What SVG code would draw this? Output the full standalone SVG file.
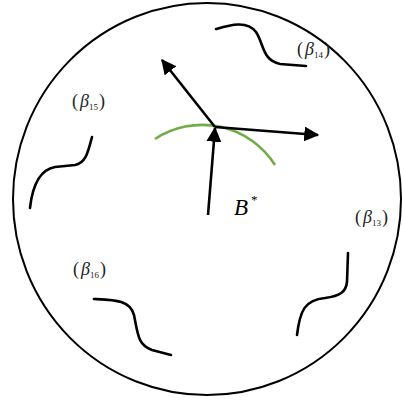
<svg xmlns="http://www.w3.org/2000/svg" width="403" height="403" viewBox="0 0 403 403">
<style>
.ln{fill:none;stroke:#000;stroke-width:2.6;stroke-linecap:round}
.ar{fill:none;stroke:#000;stroke-width:2.6}
.lab{font-family:"Liberation Serif",serif;font-size:18px;fill:#222}
.sub{font-size:9px}
</style>
<defs>
<marker id="ah" viewBox="0 0 12 12" refX="11" refY="6" markerWidth="15" markerHeight="15" markerUnits="userSpaceOnUse" orient="auto">
<path d="M0,0 L12,6 L0,12 Z" fill="#000"/>
</marker>
</defs>
<rect width="403" height="403" fill="#fff"/>
<ellipse id="boundary" cx="207" cy="199" rx="194" ry="196" fill="none" stroke="#000" stroke-width="2"/>
<path id="arc" d="M155,139 A86,86 0 0 1 275,165" fill="none" stroke="#70ad47" stroke-width="2.6"/>
<g id="connectors">
<path class="ar" d="M208,215 L215,128" marker-end="url(#ah)"/>
<path class="ar" d="M215,127 L162,60" marker-end="url(#ah)"/>
<path class="ar" d="M215,127 L318,135" marker-end="url(#ah)"/>
</g>
<g id="b14">
<path class="ln" d="M216,29 C230,25 247,20 256,32 C264,44 262,60 280,64 L306,66"/>
<text class="lab" x="297" y="55">(<tspan font-style="italic" dx="2">β</tspan><tspan class="sub" dy="3">14</tspan><tspan dy="-3" dx="1">)</tspan></text>
</g>
<g id="b15">
<path class="ln" d="M92,137 C88,152 86,163 75,165 L55,167 C38,170 32,190 30,208"/>
<text class="lab" x="72" y="107">(<tspan font-style="italic" dx="2">β</tspan><tspan class="sub" dy="3">15</tspan><tspan dy="-3" dx="1">)</tspan></text>
</g>
<g id="b16">
<path class="ln" d="M94,299 C115,300 130,300 134,315 C138,335 138,345 152,350 L171,355"/>
<text class="lab" x="73" y="275">(<tspan font-style="italic" dx="2">β</tspan><tspan class="sub" dy="3">16</tspan><tspan dy="-3" dx="1">)</tspan></text>
</g>
<g id="b13">
<path class="ln" d="M348,253 L347,282 C346,292 340,296 325,298 C305,300 300,310 297,335"/>
<text class="lab" x="355" y="223">(<tspan font-style="italic" dx="2">β</tspan><tspan class="sub" dy="3">13</tspan><tspan dy="-3" dx="1">)</tspan></text>
</g>
<g id="bstar">
<text x="234" y="215" font-family="Liberation Serif,serif" font-size="23" font-style="italic">B</text>
<text x="251" y="204" font-family="Liberation Serif,serif" font-size="13">*</text>
</g>
</svg>
